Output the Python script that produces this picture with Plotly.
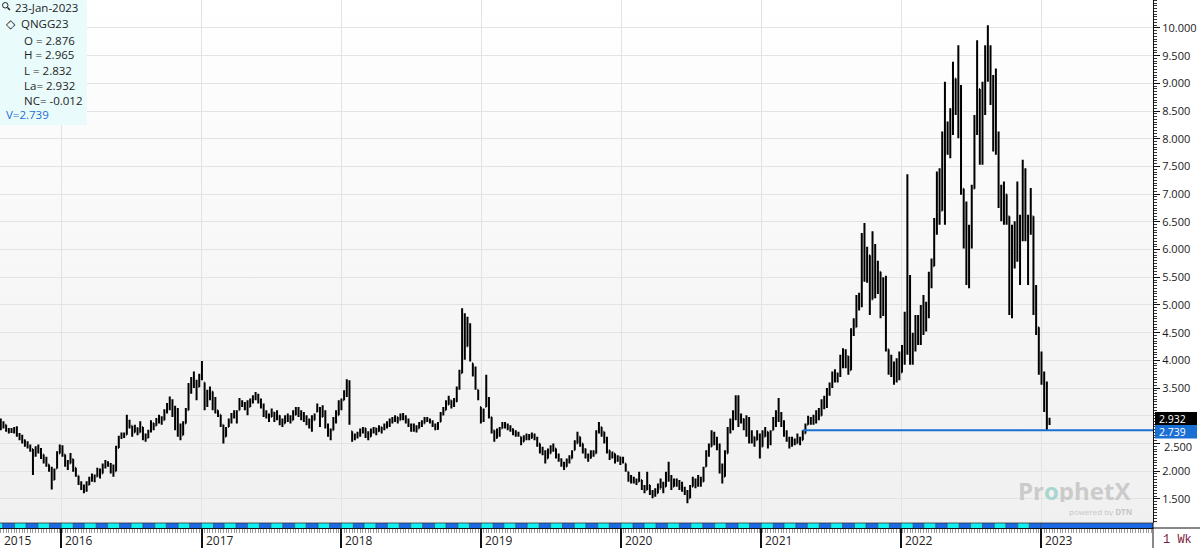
import base64
import pandas as pd
import plotly.graph_objects as go

# ---------------- data (weekly bars, QNGG23) ----------------
FIRST_WEEK = '2015-07-27'

OPENS = [
    2.86, 2.88, 2.84, 2.74, 2.72, 2.74, 2.76, 2.66, 2.60, 2.56,
    2.50, 2.46, 2.40, 2.30, 2.42, 2.38, 2.30, 2.18, 2.12, 2.04,
    1.84, 2.05, 2.32, 2.44, 2.30, 2.16, 2.14, 2.22, 2.06, 1.92,
    1.80, 1.70, 1.66, 1.75, 1.84, 1.90, 1.90, 2.02, 1.96, 2.10,
    2.16, 2.12, 2.04, 2.00, 2.42, 2.60, 2.66, 2.66, 2.90, 2.82,
    2.70, 2.78, 2.70, 2.80, 2.62, 2.60, 2.72, 2.87, 2.82, 2.92,
    2.96, 2.92, 3.08, 3.20, 3.24, 3.06, 2.86, 2.70, 2.65, 2.86,
    3.10, 3.50, 3.56, 3.62, 3.52, 3.70, 3.60, 3.30, 3.42, 3.44,
    3.26, 3.10, 3.02, 2.84, 2.62, 2.80, 2.92, 3.00, 3.06, 3.10,
    3.26, 3.20, 3.14, 3.16, 3.24, 3.30, 3.36, 3.26, 3.20, 3.06,
    3.00, 2.98, 3.06, 2.96, 3.00, 2.88, 2.86, 2.92, 2.96, 2.92,
    3.02, 3.10, 3.06, 2.98, 2.94, 2.88, 2.82, 2.92, 3.07, 3.14,
    2.98, 3.04, 2.84, 2.70, 2.74, 2.88, 3.01, 3.20, 3.28, 3.36,
    3.60, 2.72, 2.58, 2.64, 2.68, 2.74, 2.78, 2.66, 2.62, 2.74,
    2.78, 2.72, 2.80, 2.76, 2.84, 2.86, 2.92, 2.94, 2.98, 2.92,
    3.00, 2.98, 2.90, 2.84, 2.76, 2.76, 2.77, 2.82, 2.86, 2.94,
    2.92, 2.88, 2.84, 2.76, 2.89, 3.02, 3.10, 3.20, 3.28, 3.20,
    3.26, 3.50, 3.77, 4.50, 4.25, 4.60, 3.95, 3.84, 3.47, 3.16,
    2.92, 3.16, 3.30, 2.98, 2.74, 2.60, 2.70, 2.77, 2.86, 2.82,
    2.80, 2.76, 2.70, 2.66, 2.62, 2.53, 2.58, 2.62, 2.60, 2.64,
    2.60, 2.50, 2.36, 2.36, 2.23, 2.32, 2.42, 2.41, 2.30, 2.22,
    2.12, 2.08, 2.16, 2.23, 2.38, 2.50, 2.62, 2.50, 2.40, 2.30,
    2.24, 2.32, 2.32, 2.70, 2.80, 2.71, 2.60, 2.38, 2.30, 2.32,
    2.20, 2.26, 2.18, 2.14, 1.99, 1.86, 1.84, 1.80, 1.81, 1.84,
    1.70, 1.66, 1.75, 1.60, 1.56, 1.60, 1.68, 1.78, 1.72, 1.84,
    1.86, 1.72, 1.82, 1.78, 1.72, 1.70, 1.62, 1.51, 1.72, 1.84,
    1.78, 1.86, 1.81, 2.08, 2.30, 2.44, 2.66, 2.50, 2.40, 2.06,
    1.90, 2.32, 2.70, 2.90, 3.04, 3.20, 2.98, 2.94, 2.80, 2.66,
    2.56, 2.62, 2.56, 2.66, 2.44, 2.62, 2.71, 2.50, 2.74, 2.86,
    2.96, 3.00, 2.84, 2.72, 2.58, 2.48, 2.52, 2.50, 2.60, 2.56,
    2.68, 2.84, 2.92, 2.90, 2.96, 3.04, 3.00, 3.24, 3.20, 3.44,
    3.52, 3.74, 3.66, 3.72, 4.02, 3.96, 4.08, 3.82, 4.46, 4.60,
    5.08, 4.98, 6.10, 5.60, 5.90, 5.10, 6.00, 5.30, 5.60, 4.90,
    5.36, 4.20, 3.86, 3.80, 3.72, 3.90, 3.78, 4.20, 4.60, 4.70,
    4.00, 4.30, 4.50, 4.40, 4.80, 4.60, 4.94, 5.50, 5.70, 6.50,
    7.30, 6.70, 8.00, 7.80, 8.20, 8.30, 9.09, 8.60, 8.80, 7.10,
    6.20, 5.60, 6.30, 7.10, 8.20, 8.90, 7.70, 8.90, 9.30, 9.40,
    9.00, 8.80, 8.00, 6.90, 6.60, 7.00, 6.60, 5.00, 6.20, 5.90,
    6.60, 6.50, 7.20, 6.30, 6.40, 6.60, 5.00, 4.60, 3.90, 3.62,
    3.20, 2.876,
]

HIGHS = [
    2.95, 2.90, 2.84, 2.78, 2.78, 2.80, 2.81, 2.69, 2.66, 2.57,
    2.54, 2.48, 2.40, 2.45, 2.48, 2.42, 2.30, 2.26, 2.12, 2.08,
    2.05, 2.36, 2.48, 2.47, 2.30, 2.20, 2.33, 2.22, 2.06, 1.92,
    1.82, 1.76, 1.82, 1.90, 1.96, 1.94, 2.06, 2.05, 2.14, 2.20,
    2.18, 2.15, 2.12, 2.46, 2.64, 2.70, 2.70, 3.02, 2.93, 2.82,
    2.84, 2.79, 2.90, 2.80, 2.68, 2.75, 2.92, 2.87, 2.96, 3.02,
    2.99, 3.12, 3.23, 3.35, 3.30, 3.18, 3.14, 2.86, 2.90, 3.14,
    3.59, 3.70, 3.80, 3.65, 3.76, 3.99, 3.60, 3.47, 3.53, 3.44,
    3.34, 3.10, 3.02, 2.84, 2.80, 2.95, 3.05, 3.10, 3.10, 3.32,
    3.28, 3.25, 3.28, 3.31, 3.37, 3.43, 3.40, 3.31, 3.22, 3.10,
    3.04, 3.13, 3.07, 3.10, 3.01, 2.95, 3.01, 3.04, 3.01, 3.10,
    3.16, 3.16, 3.10, 3.07, 3.01, 2.95, 3.01, 3.04, 3.22, 3.16,
    3.19, 3.10, 2.86, 2.77, 2.98, 3.10, 3.28, 3.31, 3.46, 3.66,
    3.64, 2.72, 2.68, 2.71, 2.77, 2.80, 2.78, 2.72, 2.77, 2.80,
    2.78, 2.83, 2.80, 2.86, 2.90, 2.95, 2.98, 3.01, 2.98, 3.04,
    3.05, 3.01, 2.95, 2.86, 2.86, 2.83, 2.89, 2.92, 2.98, 2.98,
    2.95, 2.92, 2.86, 2.89, 3.07, 3.16, 3.28, 3.36, 3.28, 3.32,
    3.53, 3.83, 4.94, 4.85, 4.79, 4.67, 3.95, 3.89, 3.47, 3.16,
    3.13, 3.74, 3.34, 2.98, 2.74, 2.77, 2.80, 2.89, 2.89, 2.86,
    2.83, 2.77, 2.74, 2.71, 2.62, 2.65, 2.68, 2.67, 2.70, 2.68,
    2.62, 2.50, 2.44, 2.38, 2.41, 2.47, 2.50, 2.41, 2.32, 2.23,
    2.17, 2.23, 2.29, 2.38, 2.56, 2.71, 2.62, 2.50, 2.41, 2.32,
    2.38, 2.38, 2.74, 2.89, 2.80, 2.71, 2.62, 2.38, 2.35, 2.32,
    2.29, 2.26, 2.26, 2.14, 1.99, 1.93, 1.90, 1.87, 1.99, 1.84,
    1.75, 1.99, 1.75, 1.66, 1.69, 1.78, 1.87, 1.81, 1.99, 2.17,
    1.93, 1.87, 1.87, 1.84, 1.81, 1.72, 1.66, 1.75, 1.90, 1.87,
    1.93, 1.90, 2.08, 2.38, 2.50, 2.74, 2.71, 2.62, 2.50, 2.14,
    2.38, 2.80, 2.95, 3.10, 3.37, 3.37, 3.04, 2.95, 3.01, 2.98,
    2.74, 2.62, 2.74, 2.68, 2.74, 2.80, 2.71, 2.74, 2.98, 3.10,
    3.32, 3.07, 2.92, 2.74, 2.62, 2.62, 2.59, 2.68, 2.62, 2.74,
    2.86, 3.00, 2.98, 3.02, 3.10, 3.14, 3.30, 3.36, 3.50, 3.60,
    3.80, 3.84, 3.78, 4.10, 4.22, 4.20, 4.08, 4.58, 4.76, 5.18,
    5.22, 6.30, 6.48, 6.05, 5.90, 6.33, 6.10, 5.80, 5.60, 5.50,
    5.53, 4.20, 4.10, 3.98, 4.04, 4.16, 4.28, 4.88, 7.36, 5.54,
    4.50, 4.82, 4.82, 5.00, 5.18, 5.06, 5.60, 5.84, 6.57, 7.41,
    7.47, 8.13, 9.03, 8.31, 8.55, 9.39, 9.09, 9.69, 8.97, 7.10,
    6.87, 6.45, 7.17, 8.43, 9.78, 8.90, 9.03, 9.69, 10.05, 9.69,
    9.15, 9.27, 8.13, 7.17, 7.23, 7.00, 6.60, 6.45, 6.51, 7.23,
    6.63, 7.62, 7.47, 6.63, 7.11, 6.60, 5.36, 4.60, 4.16, 3.80,
    3.62, 2.965,
]

LOWS = [
    2.74, 2.77, 2.71, 2.68, 2.69, 2.68, 2.62, 2.56, 2.50, 2.44,
    2.41, 2.35, 1.93, 2.26, 2.32, 2.22, 2.14, 2.08, 1.99, 1.67,
    1.84, 2.05, 2.32, 2.26, 2.08, 2.02, 2.14, 1.99, 1.90, 1.75,
    1.66, 1.60, 1.63, 1.75, 1.81, 1.80, 1.90, 1.87, 1.96, 2.05,
    2.08, 1.96, 1.90, 2.00, 2.42, 2.58, 2.60, 2.66, 2.77, 2.62,
    2.70, 2.65, 2.70, 2.56, 2.53, 2.60, 2.70, 2.74, 2.82, 2.86,
    2.84, 2.92, 3.04, 3.10, 2.98, 2.74, 2.62, 2.56, 2.65, 2.86,
    3.10, 3.40, 3.50, 3.28, 3.52, 3.64, 3.10, 3.16, 3.28, 3.10,
    3.04, 2.98, 2.80, 2.50, 2.62, 2.80, 2.86, 2.95, 2.86, 3.10,
    3.16, 3.10, 3.01, 3.16, 3.22, 3.28, 3.22, 3.13, 2.98, 2.95,
    2.89, 2.98, 2.89, 2.92, 2.83, 2.80, 2.86, 2.89, 2.86, 2.92,
    3.01, 2.98, 2.92, 2.89, 2.83, 2.77, 2.71, 2.92, 3.07, 2.80,
    2.98, 2.77, 2.62, 2.56, 2.74, 2.86, 3.01, 3.10, 3.28, 3.34,
    2.84, 2.53, 2.56, 2.59, 2.62, 2.68, 2.60, 2.56, 2.62, 2.68,
    2.65, 2.71, 2.68, 2.74, 2.77, 2.80, 2.86, 2.89, 2.86, 2.92,
    2.92, 2.86, 2.80, 2.71, 2.71, 2.70, 2.77, 2.80, 2.86, 2.89,
    2.86, 2.80, 2.74, 2.75, 2.89, 3.01, 3.10, 3.20, 3.13, 3.16,
    3.25, 3.47, 3.77, 4.01, 4.25, 3.98, 3.71, 3.47, 3.28, 2.86,
    2.89, 3.16, 2.95, 2.68, 2.53, 2.59, 2.62, 2.77, 2.77, 2.74,
    2.71, 2.65, 2.62, 2.62, 2.47, 2.53, 2.56, 2.56, 2.59, 2.56,
    2.44, 2.32, 2.29, 2.14, 2.23, 2.32, 2.35, 2.23, 2.17, 2.08,
    2.02, 2.08, 2.14, 2.23, 2.38, 2.50, 2.44, 2.32, 2.23, 2.17,
    2.23, 2.26, 2.32, 2.68, 2.62, 2.50, 2.32, 2.20, 2.23, 2.14,
    2.17, 2.11, 2.14, 1.99, 1.81, 1.78, 1.78, 1.75, 1.81, 1.66,
    1.60, 1.66, 1.57, 1.51, 1.54, 1.60, 1.69, 1.60, 1.72, 1.81,
    1.66, 1.72, 1.72, 1.66, 1.63, 1.57, 1.42, 1.51, 1.72, 1.69,
    1.72, 1.72, 1.81, 2.08, 2.26, 2.44, 2.47, 2.38, 1.96, 1.78,
    1.90, 2.32, 2.68, 2.74, 2.92, 2.80, 2.86, 2.74, 2.62, 2.50,
    2.50, 2.44, 2.56, 2.23, 2.44, 2.62, 2.41, 2.47, 2.74, 2.80,
    2.89, 2.80, 2.62, 2.53, 2.41, 2.44, 2.47, 2.50, 2.47, 2.56,
    2.68, 2.84, 2.84, 2.84, 2.86, 2.92, 3.00, 3.12, 3.14, 3.36,
    3.50, 3.60, 3.60, 3.70, 3.86, 3.86, 3.74, 3.82, 4.44, 4.60,
    4.90, 4.96, 5.42, 5.40, 4.82, 5.10, 5.12, 5.20, 4.76, 4.80,
    4.16, 3.74, 3.70, 3.56, 3.60, 3.64, 3.78, 3.92, 4.10, 3.92,
    3.92, 4.16, 4.28, 4.28, 4.46, 4.52, 4.76, 5.30, 5.70, 6.27,
    6.45, 6.70, 6.45, 7.71, 7.65, 8.07, 8.43, 8.01, 6.99, 6.02,
    5.36, 5.30, 6.02, 7.10, 8.07, 7.53, 7.53, 8.43, 9.03, 8.61,
    7.77, 7.71, 6.75, 6.51, 6.45, 6.45, 4.82, 4.76, 5.66, 5.78,
    5.36, 6.15, 6.15, 5.36, 6.27, 4.82, 4.46, 3.74, 3.56, 3.07,
    2.739, 2.832,
]

CLOSES = [
    2.88, 2.84, 2.74, 2.72, 2.74, 2.76, 2.66, 2.60, 2.56, 2.50,
    2.46, 2.40, 2.30, 2.42, 2.38, 2.30, 2.18, 2.14, 2.04, 1.80,
    2.00, 2.32, 2.44, 2.36, 2.16, 2.10, 2.28, 2.06, 1.96, 1.80,
    1.70, 1.66, 1.74, 1.84, 1.90, 1.86, 2.02, 1.94, 2.10, 2.16,
    2.12, 2.04, 2.00, 2.42, 2.60, 2.66, 2.66, 2.90, 2.84, 2.70,
    2.78, 2.70, 2.86, 2.62, 2.60, 2.72, 2.88, 2.80, 2.92, 2.96,
    2.92, 3.08, 3.20, 3.24, 3.06, 2.86, 2.70, 2.62, 2.82, 3.10,
    3.50, 3.56, 3.62, 3.46, 3.70, 3.82, 3.30, 3.42, 3.50, 3.26,
    3.14, 3.04, 2.88, 2.62, 2.76, 2.92, 3.00, 3.06, 2.98, 3.26,
    3.20, 3.14, 3.10, 3.24, 3.30, 3.36, 3.26, 3.20, 3.06, 3.00,
    2.94, 3.06, 2.96, 3.00, 2.88, 2.84, 2.92, 2.96, 2.90, 3.02,
    3.10, 3.06, 2.98, 2.94, 2.88, 2.82, 2.86, 2.98, 3.14, 2.90,
    3.04, 2.84, 2.70, 2.62, 2.88, 3.00, 3.20, 3.24, 3.36, 3.60,
    2.90, 2.58, 2.64, 2.68, 2.74, 2.78, 2.66, 2.62, 2.74, 2.78,
    2.72, 2.80, 2.76, 2.84, 2.86, 2.92, 2.94, 2.98, 2.92, 3.00,
    2.98, 2.90, 2.84, 2.76, 2.76, 2.74, 2.82, 2.86, 2.94, 2.92,
    2.88, 2.84, 2.76, 2.82, 3.02, 3.10, 3.18, 3.30, 3.20, 3.26,
    3.50, 3.76, 4.50, 4.20, 4.60, 4.10, 3.84, 3.55, 3.34, 2.92,
    3.10, 3.30, 3.00, 2.74, 2.60, 2.70, 2.74, 2.86, 2.82, 2.80,
    2.76, 2.70, 2.66, 2.64, 2.52, 2.58, 2.62, 2.60, 2.64, 2.60,
    2.50, 2.36, 2.36, 2.18, 2.30, 2.42, 2.44, 2.30, 2.22, 2.12,
    2.06, 2.16, 2.22, 2.32, 2.50, 2.64, 2.52, 2.40, 2.30, 2.24,
    2.32, 2.30, 2.70, 2.82, 2.72, 2.60, 2.42, 2.30, 2.34, 2.20,
    2.26, 2.18, 2.20, 2.04, 1.86, 1.84, 1.80, 1.80, 1.90, 1.70,
    1.66, 1.88, 1.60, 1.56, 1.60, 1.68, 1.78, 1.68, 1.84, 1.86,
    1.72, 1.82, 1.78, 1.72, 1.70, 1.62, 1.50, 1.64, 1.84, 1.78,
    1.86, 1.80, 2.00, 2.30, 2.42, 2.66, 2.50, 2.40, 2.06, 1.90,
    2.30, 2.70, 2.90, 3.04, 3.20, 2.98, 2.94, 2.80, 2.66, 2.56,
    2.64, 2.50, 2.66, 2.44, 2.56, 2.74, 2.50, 2.68, 2.86, 2.96,
    3.00, 2.84, 2.72, 2.58, 2.48, 2.52, 2.50, 2.60, 2.54, 2.66,
    2.80, 2.92, 2.90, 2.96, 3.04, 3.00, 3.24, 3.20, 3.44, 3.52,
    3.74, 3.66, 3.72, 4.02, 3.96, 4.10, 3.82, 4.46, 4.60, 5.08,
    4.98, 6.10, 5.60, 5.90, 5.10, 6.00, 5.30, 5.60, 4.90, 5.36,
    4.22, 3.86, 3.80, 3.72, 3.90, 3.78, 4.20, 4.60, 4.70, 4.00,
    4.30, 4.50, 4.40, 4.80, 4.60, 4.94, 5.50, 5.70, 6.50, 7.30,
    6.70, 8.00, 7.80, 8.20, 8.30, 9.10, 8.60, 8.80, 7.10, 6.20,
    5.60, 6.30, 7.10, 8.20, 8.90, 7.70, 8.90, 9.30, 9.40, 9.00,
    8.80, 8.00, 6.90, 6.60, 7.00, 6.60, 5.00, 6.20, 5.90, 6.60,
    6.50, 7.20, 6.30, 6.40, 6.60, 5.00, 4.60, 3.90, 3.62, 3.20,
    2.88, 2.932,
]

YEAR_LABELS = ['2015', '2016', '2017', '2018', '2019', '2020', '2021', '2022', '2023']
PRICE_TICKS = [1.5, 2.0, 2.5, 3.0, 3.5, 4.0, 4.5, 5.0, 5.5, 6.0, 6.5, 7.0, 7.5, 8.0, 8.5, 9.0, 9.5, 10.0]
LINE_VALUE = 2.739
LINE_START = '2021-04-19'
LAST_VALUE = 2.932
INFO_DATE = '23-Jan-2023'
INFO_SYMBOL = 'QNGG23'
INFO_O, INFO_H, INFO_L, INFO_LA, INFO_NC = 2.876, 2.965, 2.832, 2.932, -0.012
PERIOD_LABEL = '1 Wk'

# ---------------- layout constants ----------------
n = len(CLOSES)
assert len(OPENS) == n and len(HIGHS) == n and len(LOWS) == n, (len(OPENS), len(HIGHS), len(LOWS), n)
dates = pd.date_range(FIRST_WEEK, periods=n, freq='7D')

W, H = 1200, 548
PLOT_R = 1153          # right edge of plot area (px)
PLOT_B = 528           # bottom of plot area (px)
STRIP_TOP = 523        # top of contract strip (px)
X_RANGE = ['2015-07-25', '2023-10-20']
Y_RANGE = [1.065, 10.505]
FONT = 'Open Sans, Noto Sans, sans-serif'
BLUE = '#1a6fd4'
CYAN = '#10f0f0'
STRIP_BLUE = '#1a6ae6'


def px(x):
    return x / PLOT_R


def py(y):
    return (PLOT_B - y) / PLOT_B


def price_to_px(p):
    # pixel row of a price inside the price panel
    return (Y_RANGE[1] - p) / (Y_RANGE[1] - Y_RANGE[0]) * STRIP_TOP


# 3.000 is hidden under the last-price box in the reference; 2.500 is drawn as a
# separate label nudged just below the level box so the two texts do not collide
MOVED_TICK = 2.5
tick_text = ['' if abs(v - 3.0) < 1e-9 or abs(v - MOVED_TICK) < 1e-9 else f'{v:.3f}' for v in PRICE_TICKS]

fig = go.Figure(go.Ohlc(
    x=dates, open=OPENS, high=HIGHS, low=LOWS, close=CLOSES,
    increasing=dict(line=dict(color='#000000', width=2)),
    decreasing=dict(line=dict(color='#000000', width=2)),
    tickwidth=0.3, hoverinfo='skip'))

svg = ("<svg xmlns='http://www.w3.org/2000/svg' width='10' height='100' preserveAspectRatio='none'>"
       "<defs><linearGradient id='g' x1='0' y1='0' x2='0' y2='1'>"
       "<stop offset='0' stop-color='#ffffff'/><stop offset='1' stop-color='#f0f0f0'/>"
       "</linearGradient></defs><rect width='10' height='100' fill='url(#g)'/></svg>")
bg_src = 'data:image/svg+xml;base64,' + base64.b64encode(svg.encode()).decode()

shapes = []
# contract strip: alternating monthly blocks, then solid blue
months = pd.date_range('2015-07-01', '2023-01-01', freq='MS')
for k in range(len(months) - 1):
    shapes.append(dict(type='rect', xref='x', yref='paper',
                       x0=months[k], x1=months[k + 1], y0=0, y1=py(STRIP_TOP),
                       fillcolor=CYAN if k % 2 == 0 else STRIP_BLUE,
                       line=dict(width=0), layer='above'))
shapes.append(dict(type='rect', xref='x', yref='paper', x0=months[-1], x1=X_RANGE[1],
                   y0=0, y1=py(STRIP_TOP), fillcolor=STRIP_BLUE,
                   line=dict(width=0), layer='above'))
for k in range(len(months)):
    shapes.append(dict(type='line', xref='x', yref='paper', x0=months[k], x1=months[k],
                       y0=0, y1=py(STRIP_TOP), line=dict(color='#333333', width=0.6), layer='above'))
shapes.append(dict(type='line', xref='paper', yref='paper', x0=0, x1=1,
                   y0=py(STRIP_TOP), y1=py(STRIP_TOP), line=dict(color='#333333', width=0.8), layer='above'))
# horizontal level line
shapes.append(dict(type='line', xref='x', yref='y', x0=LINE_START, x1=X_RANGE[1],
                   y0=LINE_VALUE, y1=LINE_VALUE, line=dict(color=BLUE, width=2), layer='above'))
# axis extension lines into margins
shapes.append(dict(type='line', xref='paper', yref='paper', x0=1, x1=1,
                   y0=py(H), y1=py(STRIP_TOP), line=dict(color='#111', width=1)))
shapes.append(dict(type='line', xref='paper', yref='paper', x0=1, x1=px(W),
                   y0=0, y1=0, line=dict(color='#111', width=1)))
# info box
shapes.append(dict(type='rect', xref='paper', yref='paper', x0=0, x1=px(87),
                   y0=py(125), y1=1, fillcolor='#eafbfb', line=dict(width=0), layer='above'))
# magnifier icon
shapes.append(dict(type='circle', xref='paper', yref='paper', x0=px(2.5), x1=px(8),
                   y0=py(8), y1=py(2.5), line=dict(color='#222', width=1), layer='above'))
shapes.append(dict(type='line', xref='paper', yref='paper', x0=px(7.5), x1=px(10),
                   y0=py(7.5), y1=py(10), line=dict(color='#222', width=1.5), layer='above'))
# right-side value label boxes (touching, as in the reference)
for top, bottom, col in ((412, 425, '#000000'), (425, 438.5, BLUE)):
    shapes.append(dict(type='rect', xref='paper', yref='paper', x0=px(1155), x1=px(1197),
                       y0=py(bottom), y1=py(top), fillcolor=col, line=dict(width=0), layer='above'))

ann = []


def text(x, y, s, size=12, color='#1e1e1e', anchor='left', family=FONT, **kw):
    ann.append(dict(xref='paper', yref='paper', x=px(x), y=py(y), text=s, showarrow=False,
                    xanchor=anchor, yanchor='middle', font=dict(size=size, color=color, family=family), **kw))


text(13, 7.5, INFO_DATE, size=11.5)
text(3.5, 23.5, '◇', size=12, color='#111')
text(19, 23.5, INFO_SYMBOL, size=11.5)
text(22, 40, f'O = {INFO_O:.3f}', size=11.5)
text(22, 55, f'H = {INFO_H:.3f}', size=11.5)
text(22, 70, f'L = {INFO_L:.3f}', size=11.5)
text(22, 85, f'La= {INFO_LA:.3f}', size=11.5)
text(22, 100, f'NC= {INFO_NC:.3f}', size=11.5)
text(4, 115, f'V={LINE_VALUE:.3f}', size=11.5, color=BLUE)

# year labels
for k, yl in enumerate(YEAR_LABELS):
    base = dict(yref='paper', y=py(539.5), text=yl, showarrow=False, xanchor='left',
                yanchor='middle', xshift=2, height=14,
                font=dict(size=12, color='#222', family=FONT))
    if k == 0:
        base.update(xref='paper', x=0)
    else:
        base.update(xref='x', x=f'{yl}-01-01')
    ann.append(base)

# right-side value label texts
text(1157, 418.5, f'{LAST_VALUE:.3f}', size=10.5, color='#ffffff', height=11)
text(1157, 431.5, f'{LINE_VALUE:.3f}', size=10.5, color='#ffffff', height=11)
# the 2.500 axis label, nudged 2px down
text(1162, price_to_px(MOVED_TICK) + 2.5, f'{MOVED_TICK:.3f}', size=11, color='#1a1a1a', height=12)

# period label
ann.append(dict(xref='paper', yref='paper', x=px(1177), y=py(539.5), text=PERIOD_LABEL, showarrow=False,
                xanchor='center', yanchor='middle', height=14,
                font=dict(size=12, color='#7a1c3c', family='Liberation Mono, DejaVu Sans Mono, monospace')))

# watermark
ann.append(dict(xref='paper', yref='paper', x=px(1016), y=py(490),
                text="<b>Pr<span style='color:#a9d6cf'>o</span>phetX</b>", showarrow=False,
                xanchor='left', yanchor='middle', height=24,
                font=dict(size=24, color='#cbcbcb', family=FONT)))
ann.append(dict(xref='paper', yref='paper', x=px(1067), y=py(511),
                text="powered by <b>DTN</b>", showarrow=False, xanchor='left', yanchor='middle',
                height=9, font=dict(size=8, color='#c6c6c6', family=FONT)))

fig.update_layout(
    width=W, height=H, margin=dict(l=0, r=W - PLOT_R, t=0, b=H - PLOT_B),
    paper_bgcolor='#ffffff', plot_bgcolor='#f5f5f5', showlegend=False,
    font=dict(family=FONT, size=11, color='#1a1a1a'),
    images=[dict(source=bg_src, xref='paper', yref='paper', x=0, y=1, sizex=1, sizey=1,
                 sizing='stretch', xanchor='left', yanchor='top', layer='below')],
    xaxis=dict(type='date', range=X_RANGE, anchor='free', position=0,
               rangeslider=dict(visible=False), showgrid=True, gridcolor='#e3e3e3', gridwidth=1,
               tick0='2016-01-01', dtick='M12', ticks='outside', ticklen=20, tickwidth=1.5,
               tickcolor='#111', showticklabels=False, showline=True, linecolor='#111', linewidth=1,
               minor=dict(dtick=7 * 86400000, tick0=FIRST_WEEK, ticks='outside', ticklen=4,
                          tickcolor='#9a9a9a', tickwidth=1, showgrid=False),
               zeroline=False, fixedrange=True),
    yaxis=dict(range=Y_RANGE, domain=[py(STRIP_TOP), 1], side='right', anchor='x',
               tickmode='array', tickvals=PRICE_TICKS, ticktext=tick_text,
               ticks='outside', ticklen=6, tickcolor='#111',
               showline=True, linecolor='#111', linewidth=1, showgrid=True, gridcolor='#e3e3e3',
               minor=dict(tickmode='linear', tick0=0, dtick=0.05, ticks='outside', ticklen=3,
                          tickcolor='#333', showgrid=False),
               tickfont=dict(size=11, color='#1a1a1a', family=FONT), zeroline=False, fixedrange=True),
    shapes=shapes, annotations=ann,
)

fig.write_html('out.html')
